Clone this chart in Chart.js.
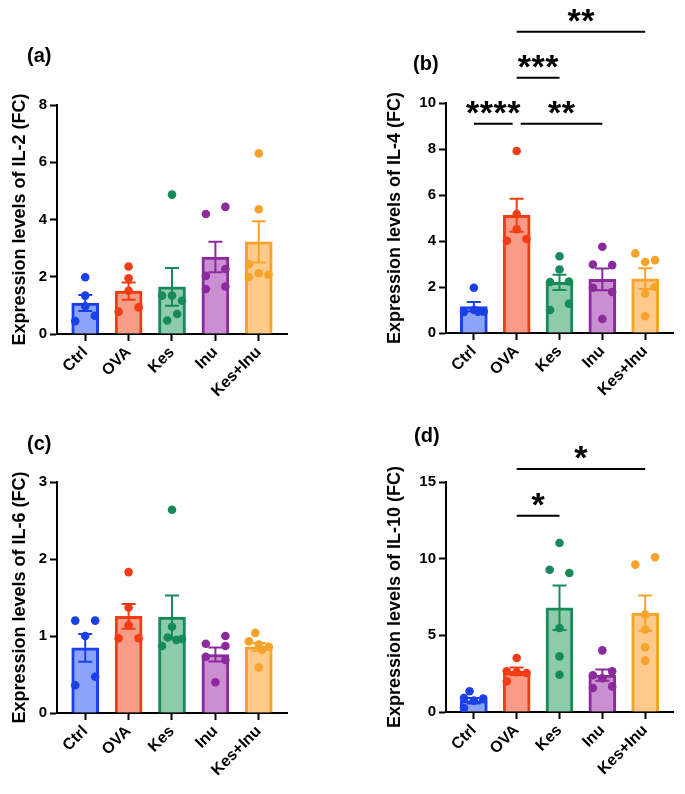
<!DOCTYPE html>
<html>
<head>
<meta charset="utf-8">
<script src="https://cdn.jsdelivr.net/npm/chart.js@4.4.1/dist/chart.umd.min.js"></script>
<style>
  body { margin: 0; background: #fff; width: 685px; height: 794px; position: relative; overflow: hidden; font-family: 'Liberation Sans', Arial, sans-serif; }
  .panel { position: absolute; }
  .tag { position: absolute; font-weight: bold; font-size: 20px; line-height: 20px; color: #000; }
</style>
</head>
<body>
<div class="panel" style="left:0;top:0"><canvas id="il2" width="342" height="397"></canvas></div>
<div class="panel" style="left:342px;top:0"><canvas id="il4" width="343" height="397"></canvas></div>
<div class="panel" style="left:0;top:397px"><canvas id="il6" width="342" height="397"></canvas></div>
<div class="panel" style="left:342px;top:397px"><canvas id="il10" width="343" height="397"></canvas></div>
<div class="tag" style="left:27px;top:45px">(a)</div>
<div class="tag" style="left:413px;top:53px">(b)</div>
<div class="tag" style="left:27px;top:433px">(c)</div>
<div class="tag" style="left:414px;top:425px">(d)</div>
<script>
const groups = ['Ctrl', 'OVA', 'Kes', 'Inu', 'Kes+Inu'];
const lineColors = ['#1b40e6', '#f33b16', '#168a59', '#8b2a9c', '#f7a32b'];
const fillColors = ['#8ba3f8', '#fa9b87', '#8dcbab', '#c98fd1', '#fdca8b'];

// (a) IL-2
const il2Mean = [1.08, 1.5, 1.65, 2.69, 3.22];
const il2Sem = [0.28, 0.3, 0.66, 0.53, 0.72];
const il2Points = [
    [1.98, 1.34, 0.97, 0.45, 0.64],
    [2.36, 1.95, 1.51, 0.78, 0.93],
    [4.87, 1.34, 1.34, 1.16, 0.70, 0.47],
    [4.19, 4.44, 2.27, 2.03, 1.57, 1.66],
    [6.31, 4.36, 2.44, 1.98, 2.12, 2.07]
];
const il2Jitter = [
    [0, 0, 0, -0.23, 0.22],
    [0, 0, 0, -0.23, 0.23],
    [0, -0.23, 0, 0.23, 0.12, -0.11],
    [-0.22, 0.23, 0.23, -0.22, -0.22, 0.23],
    [0, 0, -0.23, -0.23, 0, 0.22]
];

// (b) IL-4
const il4Mean = [1.15, 5.12, 2.2, 2.33, 2.36];
const il4Sem = [0.2, 0.72, 0.33, 0.47, 0.45];
const il4Points = [
    [1.97, 0.92, 1.0, 0.93, 0.93],
    [7.91, 5.17, 4.51, 4.01, 4.09],
    [3.34, 2.76, 2.22, 2.24, 1.0, 1.27],
    [3.75, 2.98, 2.95, 1.97, 1.78, 0.61],
    [3.46, 3.09, 3.17, 2.0, 1.71, 0.73]
];
const il4Jitter = [
    [0, -0.23, 0, 0.23, 0.1],
    [0, 0, 0, -0.23, 0.23],
    [0, 0, -0.22, 0.22, -0.22, 0.22],
    [0, -0.22, 0.23, -0.22, 0.23, 0],
    [-0.23, 0, 0.23, 0.22, 0, 0]
];
const il4Brackets = [[0, 1, 9.1, '****'], [1, 3, 9.1, '**'], [1, 2, 11.1, '***'], [1, 4, 13.1, '**']];

// (c) IL-6
const il6Mean = [0.845, 1.255, 1.245, 0.76, 0.86];
const il6Sem = [0.18, 0.16, 0.28, 0.09, 0.05];
const il6Points = [
    [1.2, 1.2, 1.0, 0.36, 0.47],
    [1.83, 1.37, 1.14, 0.97, 0.97],
    [2.64, 1.12, 0.98, 0.87, 0.95, 0.96],
    [0.9, 1.0, 0.87, 0.73, 0.69, 0.4],
    [1.04, 0.93, 0.89, 0.86, 0.82, 0.59]
];
const il6Jitter = [
    [-0.23, 0.23, 0, -0.23, 0.23],
    [0, 0, 0, -0.23, 0.23],
    [0, 0, -0.1, -0.23, 0.1, 0.23],
    [-0.22, 0.23, 0.23, -0.22, 0.23, 0],
    [-0.08, -0.23, 0, 0.23, 0.08, 0]
];

// (d) IL-10
const il10Mean = [0.74, 2.66, 6.8, 2.4, 6.45];
const il10Sem = [0.18, 0.25, 1.45, 0.37, 1.15];
const il10Points = [
    [1.35, 0.91, 0.87, 0.74, 0.26],
    [3.52, 2.65, 2.6, 2.54, 2.0],
    [11.02, 9.28, 9.07, 5.48, 3.63, 2.43],
    [4.02, 2.65, 2.2, 2.4, 1.57, 1.67],
    [9.61, 10.09, 6.35, 5.37, 4.22, 3.35]
];
const il10Jitter = [
    [-0.1, -0.23, 0.22, 0, -0.23],
    [0, -0.23, 0, 0.23, -0.23],
    [0, -0.23, 0.23, 0, 0, 0],
    [0, 0.23, 0, -0.22, -0.22, 0.23],
    [-0.23, 0.23, 0, 0, 0, 0]
];
const il10Brackets = [[1, 2, 12.8, '*'], [1, 4, 15.85, '*']];

Chart.defaults.font.family = "'Liberation Sans', Arial, sans-serif";
Chart.defaults.color = '#000';

// mean +/- SEM whiskers, drawn right after the bars so the dots sit on top
const errorBars = {
    id: 'errorBars',
    afterDatasetDraw(chart, args, opts) {
        if (args.index !== 0) return;
        const ctx = chart.ctx, xs = chart.scales.x, ys = chart.scales.y;
        ctx.save();
        ctx.lineWidth = 2;
        opts.mean.forEach((m, i) => {
            const x = xs.getPixelForValue(i);
            const hi = ys.getPixelForValue(m + opts.sem[i]);
            const lo = ys.getPixelForValue(m - opts.sem[i]);
            ctx.strokeStyle = lineColors[i];
            ctx.beginPath();
            ctx.moveTo(x, hi); ctx.lineTo(x, lo);
            ctx.moveTo(x - 7, hi); ctx.lineTo(x + 7, hi);
            ctx.moveTo(x - 7, lo); ctx.lineTo(x + 7, lo);
            ctx.stroke();
        });
        ctx.restore();
    }
};

// significance lines with asterisks
const brackets = {
    id: 'brackets',
    afterDraw(chart, args, opts) {
        const list = opts.list || [];
        if (!list.length) return;
        const ctx = chart.ctx, xs = chart.scales.x, ys = chart.scales.y;
        ctx.save();
        ctx.strokeStyle = '#000';
        ctx.fillStyle = '#000';
        ctx.lineWidth = 2;
        ctx.font = 'bold 34px "Liberation Sans", Arial, sans-serif';
        ctx.textAlign = 'center';
        ctx.textBaseline = 'alphabetic';
        const m = ctx.measureText('*');
        const mid = (m.actualBoundingBoxAscent - m.actualBoundingBoxDescent) / 2;
        list.forEach(([a, b, level, stars]) => {
            let x1 = xs.getPixelForValue(a), x2 = xs.getPixelForValue(b);
            if (list.some(o => o[2] === level && o[1] === a)) x1 += 4;
            if (list.some(o => o[2] === level && o[0] === b)) x2 -= 4;
            const y = ys.getPixelForValue(level);
            ctx.beginPath();
            ctx.moveTo(x1, y); ctx.lineTo(x2, y);
            ctx.stroke();
            const step = 13.7, cx = (x1 + x2) / 2;
            for (let k = 0; k < stars.length; k++) {
                const sx = cx + (k - (stars.length - 1) / 2) * step;
                ctx.fillText('*', sx, y - 16 + mid);
            }
        });
        ctx.restore();
    }
};

function makeChart(id, cfg) {
    const pts = [], ptColors = [];
    cfg.points.forEach((vals, i) => {
        vals.forEach((v, k) => {
            pts.push({ x: i + cfg.jitter[i][k], y: v });
            ptColors.push(lineColors[i]);
        });
    });
    const axisGrid = { offset: false, drawOnChartArea: false, drawTicks: true, tickLength: 7, tickWidth: 2, tickColor: '#000' };
    const axisBorder = { display: true, color: '#000', width: 2 };
    return new Chart(document.getElementById(id).getContext('2d'), {
        type: 'bar',
        data: {
            datasets: [{
                type: 'bar',
                data: cfg.mean.map((m, i) => ({ x: i, y: m })),
                backgroundColor: fillColors,
                borderColor: lineColors,
                borderWidth: 3,
                barThickness: 27,
                order: 2
            }, {
                type: 'scatter',
                data: pts,
                pointBackgroundColor: ptColors,
                pointBorderWidth: 0,
                pointRadius: 4.3,
                order: 1
            }]
        },
        options: {
            responsive: false,
            animation: false,
            layout: { padding: cfg.pad },
            plugins: {
                legend: { display: false },
                tooltip: { enabled: false },
                errorBars: { mean: cfg.mean, sem: cfg.sem },
                brackets: { list: cfg.brackets }
            },
            scales: {
                x: {
                    type: 'linear',
                    offset: false,
                    min: -0.65,
                    max: 4.65,
                    afterBuildTicks: s => { s.ticks = groups.map((g, i) => ({ value: i })); },
                    afterFit: s => { s.height = 63; },
                    grid: axisGrid,
                    border: axisBorder,
                    ticks: {
                        autoSkip: false,
                        minRotation: 45,
                        maxRotation: 45,
                        padding: 2,
                        font: { size: 16, weight: 'bold' },
                        callback: v => groups[v]
                    }
                },
                y: {
                    min: 0,
                    max: cfg.max,
                    afterFit: s => { s.width = cfg.yWidth; },
                    grid: axisGrid,
                    border: axisBorder,
                    ticks: { stepSize: cfg.step, padding: 3, font: { size: 15, weight: 'bold' } },
                    title: {
                        display: true,
                        text: cfg.label,
                        font: { size: 18, weight: 'bold' },
                        padding: { top: 4, bottom: 0 }
                    }
                }
            }
        },
        plugins: [errorBars, brackets]
    });
}

makeChart('il2', { mean: il2Mean, sem: il2Sem, points: il2Points, jitter: il2Jitter, max: 8, step: 2,
    label: 'Expression levels of IL-2 (FC)', yWidth: 52, pad: { top: 105, right: 55, bottom: 0, left: 5 } });
makeChart('il4', { mean: il4Mean, sem: il4Sem, points: il4Points, jitter: il4Jitter, max: 10, step: 2, brackets: il4Brackets,
    label: 'Expression levels of IL-4 (FC)', yWidth: 66, pad: { top: 103, right: 12, bottom: 1, left: 38 } });
makeChart('il6', { mean: il6Mean, sem: il6Sem, points: il6Points, jitter: il6Jitter, max: 3, step: 1,
    label: 'Expression levels of IL-6 (FC)', yWidth: 52, pad: { top: 85, right: 55, bottom: 18, left: 5 } });
makeChart('il10', { mean: il10Mean, sem: il10Sem, points: il10Points, jitter: il10Jitter, max: 15, step: 5, brackets: il10Brackets,
    label: 'Expression levels of IL-10 (FC)', yWidth: 66, pad: { top: 85, right: 12, bottom: 19, left: 38 } });
</script>
</body>
</html>
